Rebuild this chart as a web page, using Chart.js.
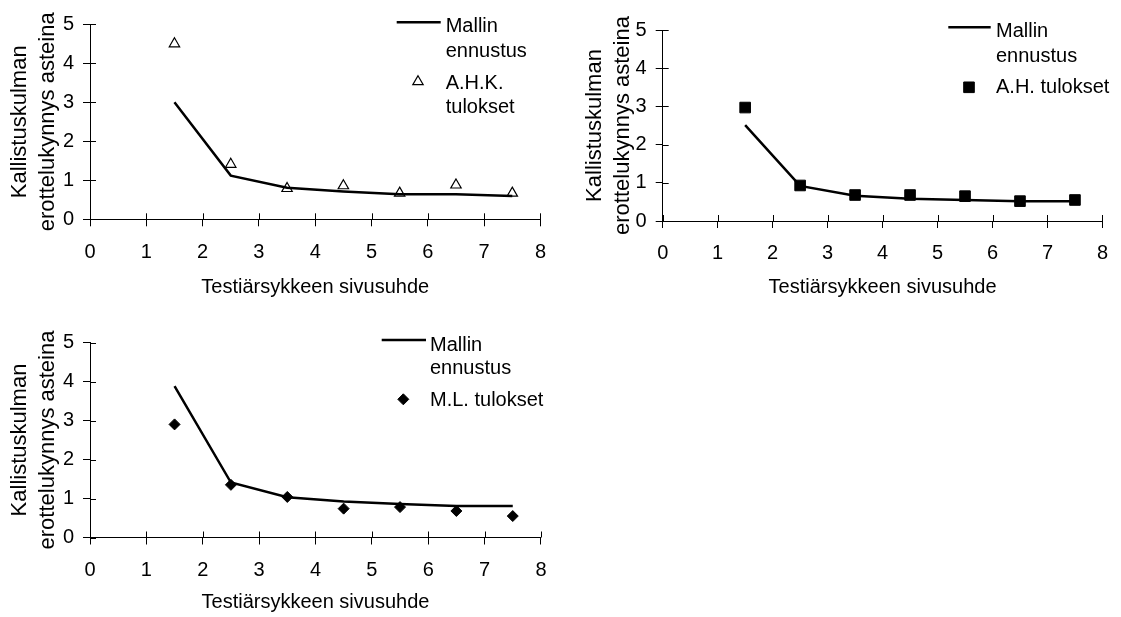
<!DOCTYPE html>
<html><head><meta charset="utf-8">
<script src="https://cdn.jsdelivr.net/npm/chart.js@4.4.1/dist/chart.umd.min.js"></script>
<style>
html,body{margin:0;padding:0;background:#fff;width:1121px;height:617px;overflow:hidden;}
canvas{position:absolute;}
</style></head><body>
<canvas id="c1" width="560" height="310" style="left:0;top:0"></canvas>
<canvas id="c2" width="551" height="310" style="left:570px;top:0"></canvas>
<canvas id="c3" width="560" height="307" style="left:0;top:310px"></canvas>
<script>
// ---- data ----
const aspectRatios = [1.5, 2.5, 3.5, 4.5, 5.5, 6.5, 7.5];
const xTickValues = [0, 1, 2, 3, 4, 5, 6, 7, 8];
const yTickValues = [0, 1, 2, 3, 4, 5];
const xAxisTitle = 'Testiärsykkeen sivusuhde';
const yAxisTitle = ['Kallistuskulman', 'erottelukynnys asteina'];
const modelLabel = ['Mallin', 'ennustus'];

const model1 = [3.0, 1.12, 0.81, 0.71, 0.64, 0.64, 0.60];
const ahk = [4.5, 1.41, 0.79, 0.86, 0.67, 0.88, 0.67];
const ahkLabel = ['A.H.K.', 'tulokset'];

const model2 = [2.51, 0.92, 0.66, 0.58, 0.55, 0.52, 0.52];
const ah = [2.97, 0.93, 0.68, 0.68, 0.65, 0.52, 0.55];
const ahLabel = ['A.H. tulokset'];

const model3 = [3.88, 1.41, 1.03, 0.92, 0.86, 0.81, 0.81];
const ml = [2.90, 1.35, 1.04, 0.74, 0.78, 0.68, 0.55];
const mlLabel = ['M.L. tulokset'];

// ---- rendering ----
const FF = '"Liberation Sans", Arial, Helvetica, sans-serif';

const crossTicks = {
  id: 'crossTicks',
  beforeDatasetsDraw(chart) {
    const {ctx, chartArea: a} = chart;
    const x = chart.scales.x, y = chart.scales.y;
    ctx.save();
    ctx.strokeStyle = '#000';
    ctx.lineWidth = 1;
    ctx.beginPath();
    x.ticks.forEach(t => {
      const px = Math.round(x.getPixelForValue(t.value)) + 0.5;
      ctx.moveTo(px, a.bottom); ctx.lineTo(px, a.bottom - 6);
    });
    y.ticks.forEach(t => {
      const py = Math.round(y.getPixelForValue(t.value)) + 0.5;
      ctx.moveTo(a.left, py); ctx.lineTo(a.left + 6, py);
    });
    ctx.stroke();
    ctx.restore();
  }
};

function drawMarker(ctx, ds, x, y) {
  const opts = {pointStyle: ds.pointStyle, radius: ds.pointRadius, rotation: 0, borderWidth: ds.pointBorderWidth};
  ctx.fillStyle = ds.pointBackgroundColor;
  ctx.strokeStyle = ds.pointBorderColor;
  ctx.lineWidth = ds.pointBorderWidth;
  if (Chart.helpers && Chart.helpers.drawPoint) {
    Chart.helpers.drawPoint(ctx, opts, x, y);
  }
}

const boxLegend = {
  id: 'boxLegend',
  afterDraw(chart, args, o) {
    const ctx = chart.ctx;
    const lineDs = chart.data.datasets[0];
    const markDs = chart.data.datasets[1];
    ctx.save();
    ctx.strokeStyle = lineDs.borderColor;
    ctx.lineWidth = lineDs.borderWidth;
    ctx.beginPath();
    ctx.moveTo(o.lineX1, o.lineY);
    ctx.lineTo(o.lineX2, o.lineY);
    ctx.stroke();
    ctx.fillStyle = '#000';
    ctx.font = '20px ' + FF;
    ctx.textAlign = 'left';
    ctx.textBaseline = 'alphabetic';
    o.modelText.forEach((t, i) => ctx.fillText(t, o.textX, o.modelBase[i]));
    o.markText.forEach((t, i) => ctx.fillText(t, o.textX, o.markBase[i]));
    drawMarker(ctx, markDs, o.symX, o.symY);
    ctx.restore();
  }
};

function makeChart(id, model, marks, markLabel, markStyle, c) {
  const lineData = aspectRatios.map((x, i) => ({x: x, y: model[i]}));
  const markData = aspectRatios.map((x, i) => ({x: x, y: marks[i]}));
  return new Chart(document.getElementById(id), {
    type: 'scatter',
    data: {
      datasets: [
        {label: modelLabel.join(' '), data: lineData, showLine: true, borderColor: '#000', borderWidth: 2.5,
         pointRadius: 0, tension: 0, order: 1},
        Object.assign({label: markLabel.join(' '), data: markData, showLine: false, order: 0}, markStyle)
      ]
    },
    options: {
      responsive: false, animation: false, devicePixelRatio: 1,
      layout: {padding: {top: c.top, right: c.right, left: 0, bottom: 0}},
      plugins: {
        legend: {display: false}, tooltip: {enabled: false},
        boxLegend: Object.assign({modelText: modelLabel, markText: markLabel}, c.legend)
      },
      scales: {
        x: {
          type: 'linear', min: 0, max: 8,
          afterBuildTicks: s => { s.ticks = xTickValues.map(v => ({value: v})); },
          afterFit: s => { s.height = c.xh; },
          grid: {drawOnChartArea: false, drawTicks: true, tickLength: 7, color: '#000', tickColor: '#000', lineWidth: 1},
          border: {display: true, color: '#000', width: 1},
          ticks: {color: '#000', font: {family: FF, size: 20}, padding: c.xtp, maxRotation: 0, autoSkip: false},
          title: {display: true, text: xAxisTitle, color: '#000', font: {family: FF, size: 20}, padding: {top: 0, bottom: c.xtb}}
        },
        y: {
          type: 'linear', min: 0, max: 5,
          afterBuildTicks: s => { s.ticks = yTickValues.map(v => ({value: v})); },
          afterFit: s => { s.width = c.yw; },
          grid: {drawOnChartArea: false, drawTicks: true, tickLength: 7, color: '#000', tickColor: '#000', lineWidth: 1},
          border: {display: true, color: '#000', width: 1},
          ticks: {color: '#000', font: {family: FF, size: 20}, padding: 9},
          title: {display: true, text: yAxisTitle, color: '#000', font: {family: FF, size: 22, lineHeight: 1.27}, padding: {top: c.ytp, bottom: 0}}
        }
      }
    },
    plugins: [crossTicks, boxLegend]
  });
}

makeChart('c1', model1, ahk, ahkLabel,
  {pointStyle: 'triangle', pointRadius: 6, pointBorderWidth: 1.2, pointBorderColor: '#000', pointBackgroundColor: 'rgba(255,255,255,0)'},
  {top: 24.3, right: 19, yw: 90, xh: 90.7, xtp: 14, xtb: 11, ytp: 6,
   legend: {lineX1: 396.7, lineX2: 440.7, lineY: 22.3, textX: 445.7, modelBase: [32.3, 56.7], markBase: [89.3, 113.3], symX: 418, symY: 81.7}});

makeChart('c2', model2, ah, ahLabel,
  {pointStyle: 'rect', pointRadius: 7.5, pointBorderWidth: 1, pointBorderColor: '#000', pointBackgroundColor: '#000'},
  {top: 30, right: 15.3, yw: 92.7, xh: 89, xtp: 13, xtb: 11, ytp: 11,
   legend: {lineX1: 378.3, lineX2: 420.7, lineY: 27.3, textX: 426, modelBase: [37.3, 62.3], markBase: [93.3], symX: 399, symY: 87.3}});

makeChart('c3', model3, ml, mlLabel,
  {pointStyle: 'rectRot', pointRadius: 5.5, pointBorderWidth: 1, pointBorderColor: '#000', pointBackgroundColor: '#000'},
  {top: 32.5, right: 19, yw: 90, xh: 79.5, xtp: 13.5, xtb: 3, ytp: 6,
   legend: {lineX1: 381.7, lineX2: 426, lineY: 30, textX: 430, modelBase: [40.7, 64], markBase: [96], symX: 403.3, symY: 89.3}});
</script>
</body></html>
